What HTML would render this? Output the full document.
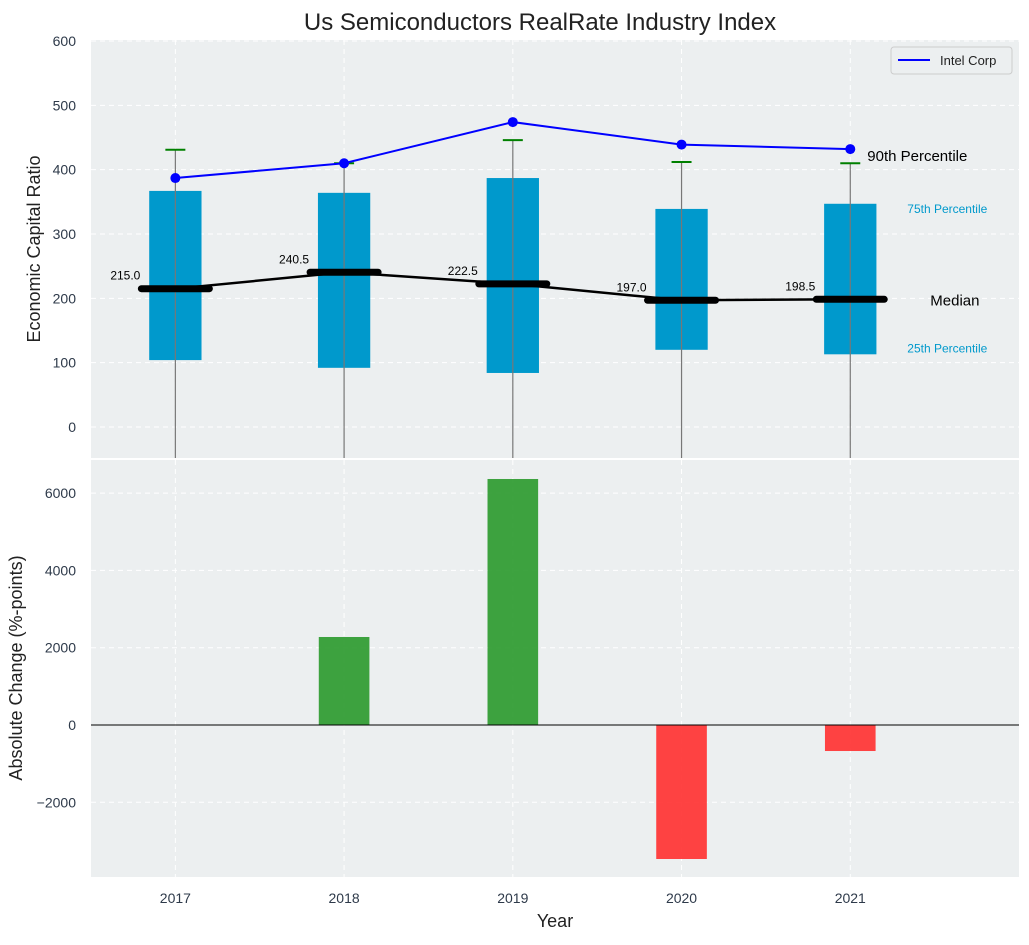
<!DOCTYPE html>
<html><head><meta charset="utf-8"><style>
body{margin:0;background:#fff;font-family:"Liberation Sans","DejaVu Sans",sans-serif}
</style></head><body>
<svg id="c" width="1029" height="940" xmlns="http://www.w3.org/2000/svg" font-family="Liberation Sans, DejaVu Sans, sans-serif"></svg>
<script>
const years=[2017,2018,2019,2020,2021];
const p25=[104,92,84,120,113];
const p75=[367,364,387,339,347];
const p90=[431,410,446,412,410];
const medians=[215,240.5,222.5,197,198.5];
const intel=[387,410,474,439,432];
const changes=[0,2277,6365,-3467,-673];
const topTicks=[0,100,200,300,400,500,600];
const botTicks=[-2000,0,2000,4000,6000];

const svg=document.getElementById('c');
const NS='http://www.w3.org/2000/svg';
function mk(tag,attrs,parent,text){const e=document.createElementNS(NS,tag);for(const k in attrs)e.setAttribute(k,attrs[k]);if(text!==undefined)e.textContent=text;(parent||svg).appendChild(e);return e;}
const L=91,R=1019,T1=40,B1=458,T2=460,B2=877;
const x=v=>L+(v-2016.5)/(2022-2016.5)*(R-L);
const y1=v=>427-v*0.6433;
const y2=v=>725-v*0.03865;

let e=mk('rect',{x:L,y:T1,width:R-L,height:B1-T1,fill:'#eceff0'});

e=mk('rect',{x:L,y:T2,width:R-L,height:B2-T2,fill:'#eceff0'});


years.forEach(yr=>{[[T1,B1],[T2,B2]].forEach(([a,b])=>{const g=mk('line',{x1:x(yr),x2:x(yr),y1:a,y2:b,stroke:'#fff','stroke-dasharray':'5,4','stroke-width':1});});});
topTicks.forEach(t=>{const g=mk('line',{x1:L,x2:R,y1:y1(t),y2:y1(t),stroke:'#fff','stroke-dasharray':'5,4'});
const tx=mk('text',{x:L-15,y:y1(t)+5,'text-anchor':'end','font-size':14,fill:'#2e3a4a'},null,t);});
botTicks.forEach(t=>{const g=mk('line',{x1:L,x2:R,y1:y2(t),y2:y2(t),stroke:'#fff','stroke-dasharray':'5,4'});
const tx=mk('text',{x:L-15,y:y2(t)+5,'text-anchor':'end','font-size':14,fill:'#2e3a4a'},null,t<0?'\u2212'+(-t):t);});

const bw=0.31/5.5*(R-L);
years.forEach((yr,i)=>{
 const cx=x(yr);
 let b=mk('rect',{x:cx-bw/2,y:y1(p75[i]),width:bw,height:y1(p25[i])-y1(p75[i]),fill:'#0099cc'});
 
 let w=mk('line',{x1:cx,x2:cx,y1:y1(p90[i]),y2:B1,stroke:'#777','stroke-width':1.2});
 
 let c=mk('line',{x1:cx-10,x2:cx+10,y1:y1(p90[i]),y2:y1(p90[i]),stroke:'green','stroke-width':2});
 
});
let mp=mk('polyline',{points:years.map((yr,i)=>x(yr)+','+y1(medians[i])).join(' '),fill:'none',stroke:'#000','stroke-width':2.5});

years.forEach((yr,i)=>{const cx=x(yr);
 let m=mk('line',{x1:cx-34,x2:cx+34,y1:y1(medians[i]),y2:y1(medians[i]),stroke:'#000','stroke-width':7,'stroke-linecap':'round'});
 
 let t=mk('text',{x:cx-35,y:y1(medians[i])-9,'text-anchor':'end','font-size':12,fill:'#000'},null,medians[i].toFixed(1));
 
});
let ip=mk('polyline',{points:years.map((yr,i)=>x(yr)+','+y1(intel[i])).join(' '),fill:'none',stroke:'#0000ff','stroke-width':2});

years.forEach((yr,i)=>{let d=mk('circle',{cx:x(yr),cy:y1(intel[i]),r:5,fill:'#0000ff'});});

const lastX=x(2021);
[[ '90th Percentile',lastX+17,y1(p90[4])-2,15,'#000'],['75th Percentile',lastX+57,y1(p75[4])+9,12,'#0099cc'],['Median',lastX+80,y1(medians[4])+6,15,'#000'],['25th Percentile',lastX+57,y1(p25[4])-2,12,'#0099cc']].forEach(a=>{
 let t=mk('text',{x:a[1],y:a[2],'font-size':a[3],fill:a[4]},null,a[0]);});

let lg=mk('g',{});
mk('rect',{x:891,y:47,width:121,height:27,fill:'#eceff0',stroke:'#ccc',rx:3},lg);
mk('line',{x1:898,x2:930,y1:60,y2:60,stroke:'#0000ff','stroke-width':2},lg);
mk('text',{x:940,y:65,'font-size':13,fill:'#222'},lg,'Intel Corp');

const barW=0.3/5.5*(R-L);
years.forEach((yr,i)=>{const v=changes[i];const a=y2(Math.max(v,0)),b=y2(Math.min(v,0));
 let r=mk('rect',{x:x(yr)-barW/2,y:a,width:barW,height:b-a,fill:v>=0?'#2e9b30':'#ff3333','fill-opacity':0.92});
 });
let z=mk('line',{x1:L,x2:R,y1:y2(0),y2:y2(0),stroke:'#000','stroke-width':1});

years.forEach(yr=>{let t=mk('text',{x:x(yr),y:903,'text-anchor':'middle','font-size':14,fill:'#2e3a4a'},null,yr);});

let t=mk('text',{x:540,y:30,'text-anchor':'middle','font-size':24,fill:'#222'},null,'Us Semiconductors RealRate Industry Index');
t=mk('text',{x:555,y:927,'text-anchor':'middle','font-size':18,fill:'#222'},null,'Year');
t=mk('text',{x:0,y:0,'text-anchor':'middle','font-size':18,fill:'#222',transform:'translate(40,249) rotate(-90)'},null,'Economic Capital Ratio');
t=mk('text',{x:0,y:0,'text-anchor':'middle','font-size':18,fill:'#222',transform:'translate(22,668) rotate(-90)'},null,'Absolute Change (%-points)');
</script>
</body></html>
